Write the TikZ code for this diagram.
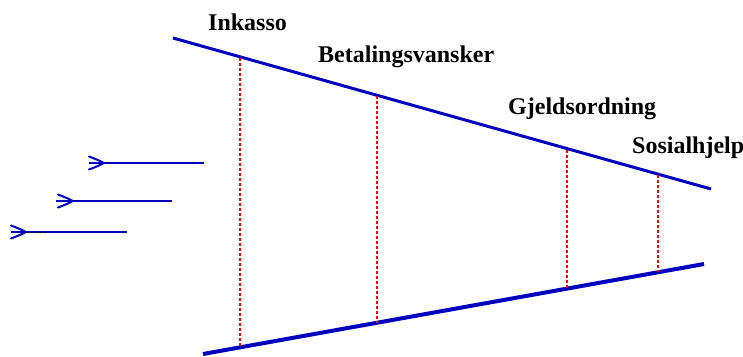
\documentclass[tikz,border=0pt]{standalone}
\usepackage{fontspec}
\setmainfont{Liberation Serif}
\begin{document}
\begin{tikzpicture}[x=1pt,y=-1pt,
  wedge/.style={draw={rgb,255:red,0;green,0;blue,190}, line width=3pt},
  wedgeb/.style={draw={rgb,255:red,0;green,0;blue,190}, line width=4pt},
  guide/.style={draw=red, dash pattern=on 2.5pt off 2.5pt, line width=1.8pt},
  flow/.style={draw={rgb,255:red,0;green,0;blue,190}, line width=2pt},
  barb/.style={draw={rgb,255:red,0;green,0;blue,190}, line width=2pt, line cap=round},
  lbl/.style={anchor=base west, inner sep=0pt, font=\fontsize{24}{27}\selectfont\bfseries}]
\useasboundingbox (0,0) rectangle (743,356);
% wedge
\coordinate (t1) at (173,38);
\coordinate (t2) at (711,189);
\coordinate (b1) at (203,354);
\coordinate (b2) at (704,264);
\draw[wedge] (t1) -- (t2);
\draw[wedgeb] (b1) -- (b2);
% guides
\coordinate (g1t) at (240,58);  \coordinate (g1b) at (240,347);
\coordinate (g2t) at (377,96);  \coordinate (g2b) at (377,323);
\coordinate (g3t) at (567,150); \coordinate (g3b) at (567,289);
\coordinate (g4t) at (658,175); \coordinate (g4b) at (658,272);
\draw[guide] (g1t) -- (g1b);
\draw[guide] (g2t) -- (g2b);
\draw[guide] (g3t) -- (g3b);
\draw[guide] (g4t) -- (g4b);
% labels
\node[lbl] (l1) at (208,30) {Inkasso};
\node[lbl] (l2) at (318,62) {Betalingsvansker};
\node[lbl] (l3) at (508,114) {Gjeldsordning};
\node[lbl] (l4) at (632,153) {Sosialhjelp};
% arrows
\coordinate (a1s) at (89,163);  \coordinate (a1t) at (104,163);  \coordinate (a1e) at (204,163);
\coordinate (a2s) at (56,201);  \coordinate (a2t) at (73,201);   \coordinate (a2e) at (172,201);
\coordinate (a3s) at (11,232);  \coordinate (a3t) at (26,232);   \coordinate (a3e) at (127,232);
\draw[flow] (a1s) -- (a1e);
\draw[flow] (a2s) -- (a2e);
\draw[flow] (a3s) -- (a3e);
\draw[barb] ([shift={(-15,-6.5)}]a1t) .. controls ([shift={(-6,-3)}]a1t) .. (a1t) .. controls ([shift={(-6,3)}]a1t) .. ([shift={(-15,6.5)}]a1t);
\draw[barb] ([shift={(-15,-6.5)}]a2t) .. controls ([shift={(-6,-3)}]a2t) .. (a2t) .. controls ([shift={(-6,3)}]a2t) .. ([shift={(-15,6.5)}]a2t);
\draw[barb] ([shift={(-15,-6.5)}]a3t) .. controls ([shift={(-6,-3)}]a3t) .. (a3t) .. controls ([shift={(-6,3)}]a3t) .. ([shift={(-15,6.5)}]a3t);
\coordinate (d3e) at (47,232);
\draw[black, dash pattern=on 2pt off 1.5pt, line width=0.8pt] (a3t) -- (d3e);
\end{tikzpicture}
\end{document}
